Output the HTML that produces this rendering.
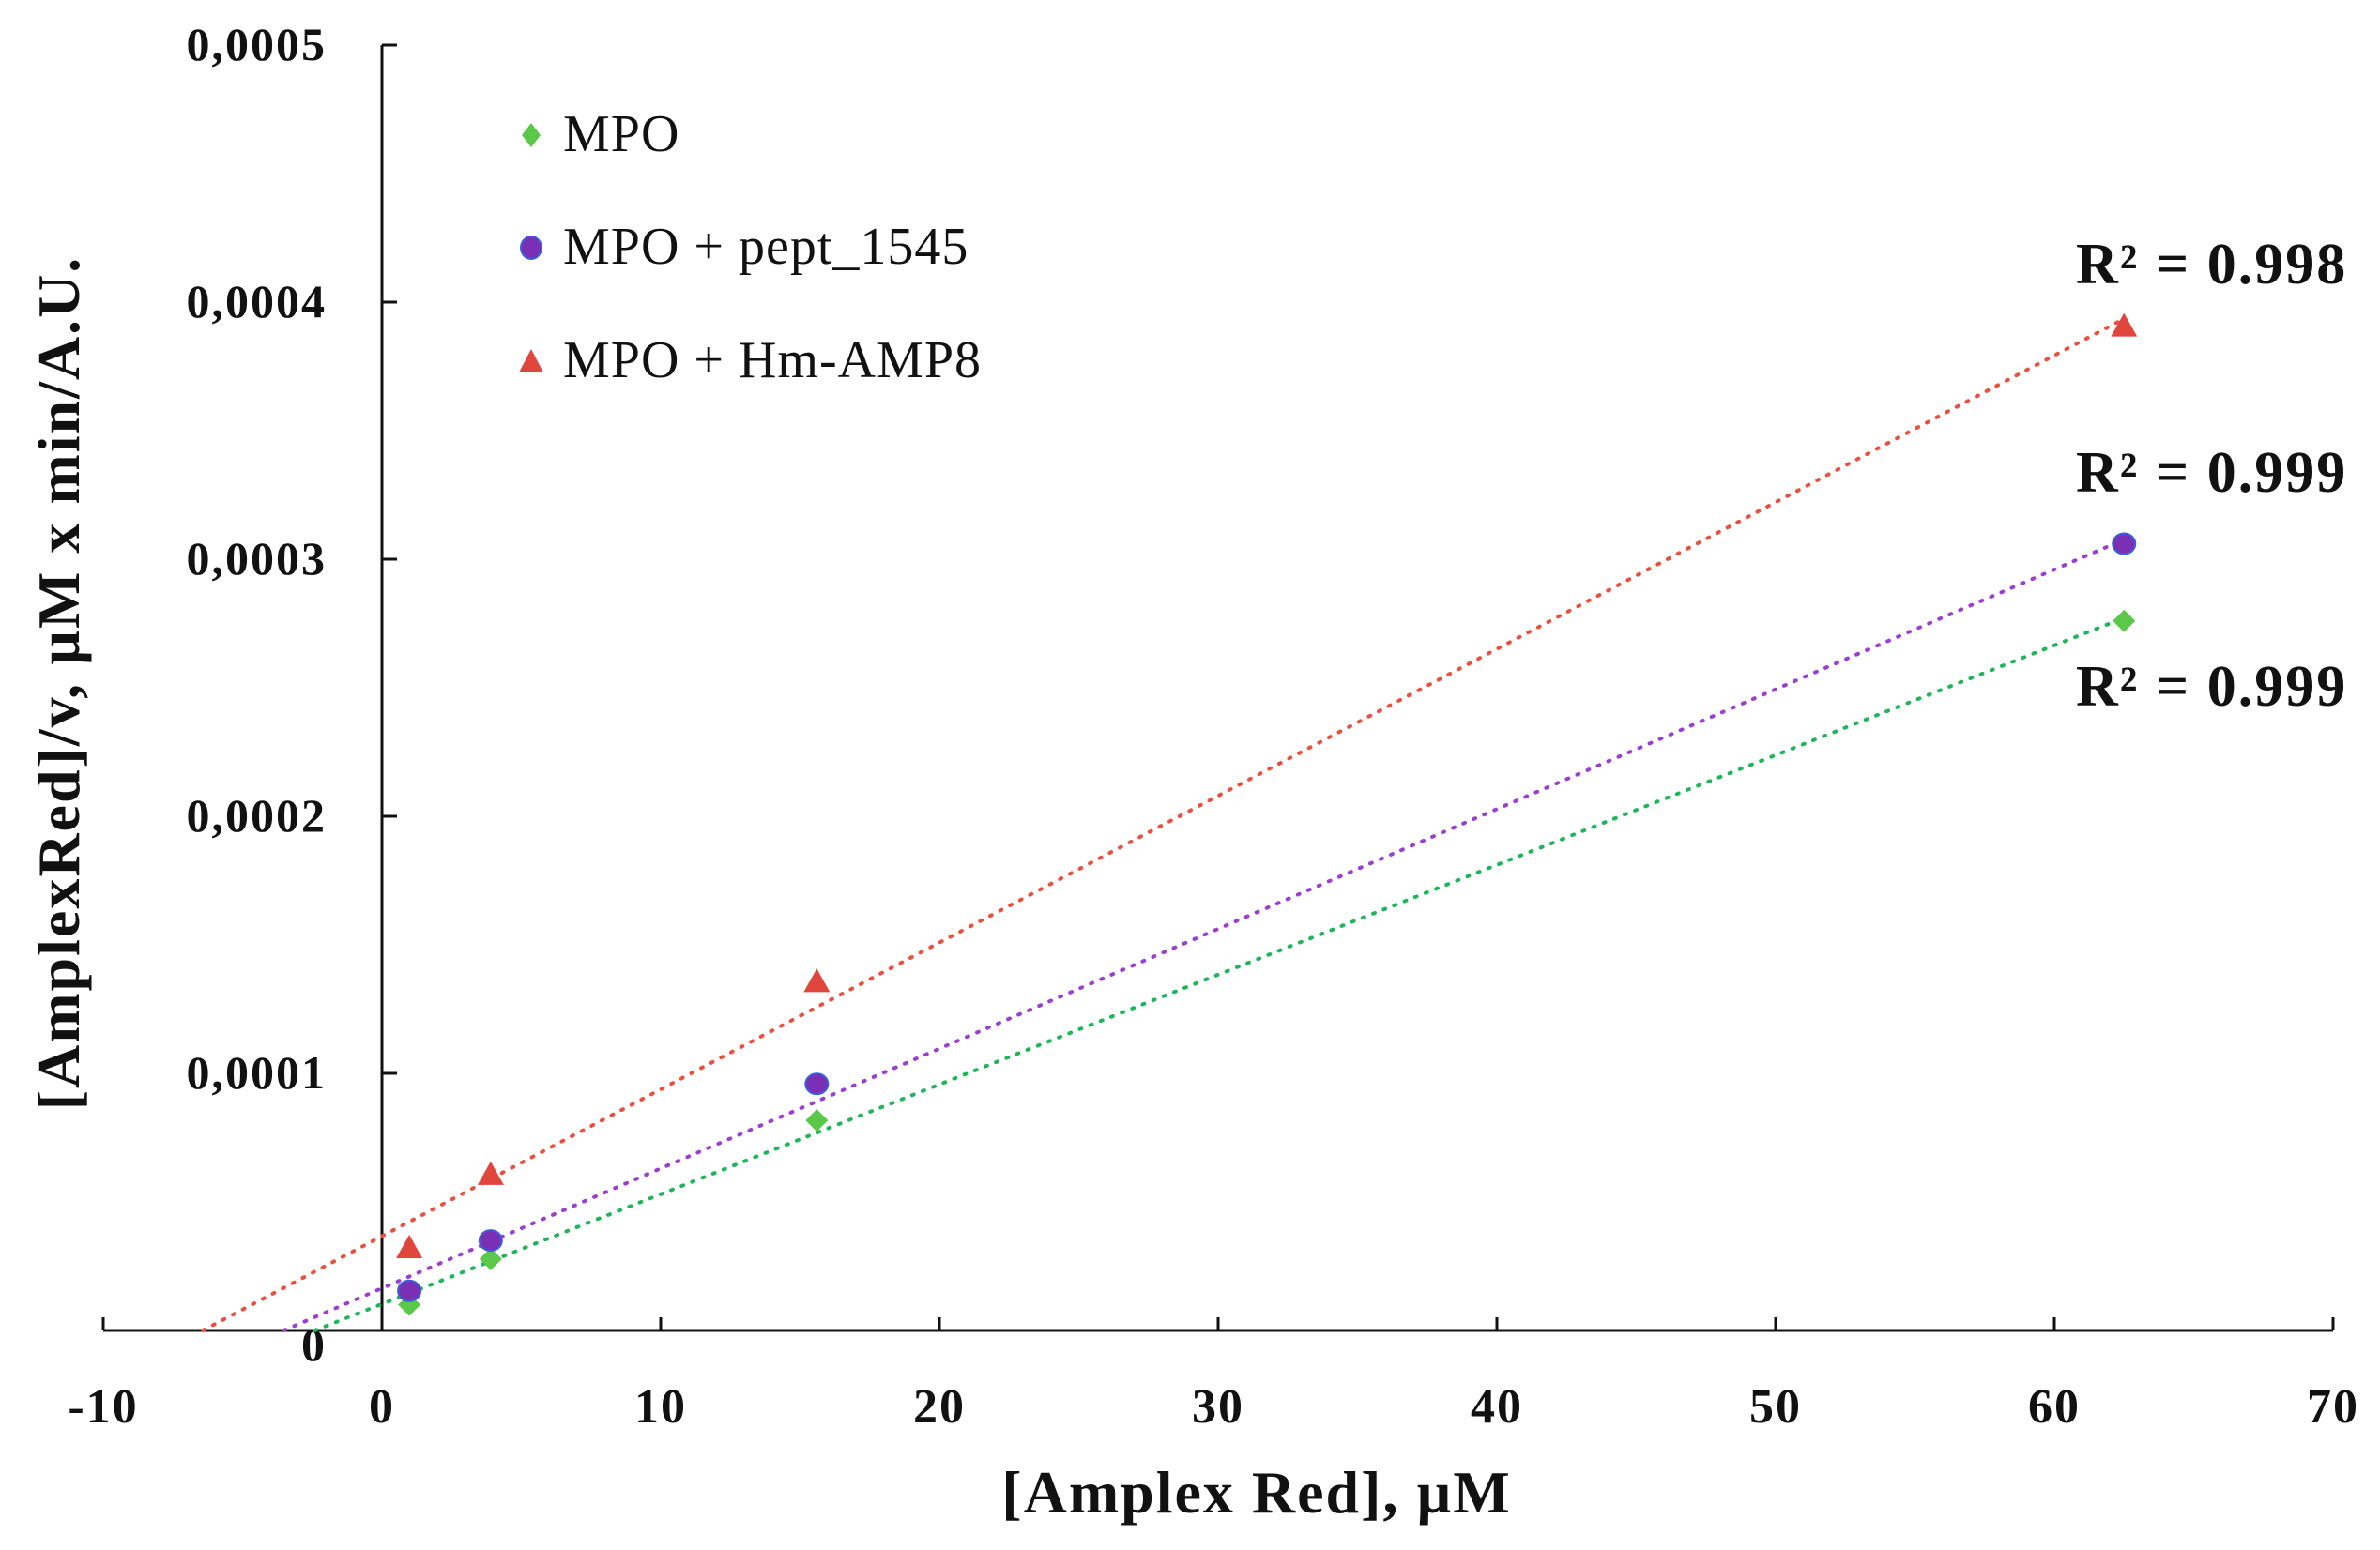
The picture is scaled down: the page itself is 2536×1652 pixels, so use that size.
<!DOCTYPE html>
<html><head><meta charset="utf-8"><style>
html,body{margin:0;padding:0;background:#fff;}
svg{display:block;}
text{font-family:"Liberation Serif",serif;fill:#111;}
</style></head><body>
<svg id="chart" width="2536" height="1652" viewBox="0 0 2536 1652">
<g id="axes"></g>
<g id="trends"></g>
<g id="marks"></g>
<text x="1339" y="1612" font-size="64" font-weight="bold" text-anchor="middle" letter-spacing="2">[Amplex Red], µM</text>
<text transform="translate(84,728) rotate(-90)" font-size="64" font-weight="bold" text-anchor="middle" letter-spacing="2">[AmplexRed]/v, µM x min/A.U.</text>
<g>
 <g><polygon points="566,131 576,144 566,157 556,144" fill="#5cc84a"/><text x="600" y="161" font-size="56" letter-spacing="1">MPO</text></g>
 <g><ellipse cx="566" cy="264" rx="11" ry="12" fill="#7a2fb5" stroke="#3b5fd9" stroke-width="2"/><text x="600" y="281" font-size="56" letter-spacing="1">MPO + pept_1545</text></g>
 <g><polygon points="566,372 579,397 553,397" fill="#e0463c"/><text x="600" y="402" font-size="56" letter-spacing="1">MPO + Hm-AMP8</text></g>
</g>
<text x="2212" y="302" font-size="62" font-weight="bold" letter-spacing="2">R² = 0.998</text>
<text x="2212" y="524" font-size="62" font-weight="bold" letter-spacing="2">R² = 0.999</text>
<text x="2212" y="752" font-size="62" font-weight="bold" letter-spacing="2">R² = 0.999</text>
</svg>
<script>
const xConc = [0.98, 3.9, 15.6, 62.5];
const mpoValues = [0.0000100, 0.0000278, 0.0000817, 0.000276];
const peptValues = [0.0000154, 0.0000350, 0.0000959, 0.000306];
const hmValues = [0.0000325, 0.0000610, 0.000136, 0.000391];
const xTicks = [-10, 0, 10, 20, 30, 40, 50, 60, 70];
const yTicks = [0, 0.0001, 0.0002, 0.0003, 0.0004, 0.0005];
const yTickLabels = ["0", "0,0001", "0,0002", "0,0003", "0,0004", "0,0005"];

const NS = "http://www.w3.org/2000/svg";
const X0 = 407, XU = 29.7, Y0 = 1418, YU = 2740000;
function xs(v){return X0 + v*XU;}
function ys(v){return Y0 - v*YU;}
function mk(tag, attrs, parent){const e=document.createElementNS(NS,tag);for(const k in attrs)e.setAttribute(k,attrs[k]);parent.appendChild(e);return e;}

const axes = document.getElementById('axes');
let l = mk('line',{x1:xs(-10),x2:xs(70),y1:Y0,y2:Y0,stroke:'#111','stroke-width':3},axes);


l = mk('line',{x1:xs(0),x2:xs(0),y1:ys(0.0005),y2:Y0,stroke:'#111','stroke-width':3},axes);


xTicks.forEach(t=>{
  const tk = mk('line',{x1:xs(t),x2:xs(t),y1:Y0,y2:Y0-14,stroke:'#111','stroke-width':3},axes);
  
  
  const tx = mk('text',{x:xs(t),y:1516,'font-size':52,'font-weight':'bold','text-anchor':'middle','letter-spacing':2},axes);
  tx.textContent = String(t);
  
  
});
yTicks.forEach((t,i)=>{
  const tk = mk('line',{x1:xs(0),x2:xs(0)+16,y1:ys(t),y2:ys(t),stroke:'#111','stroke-width':3},axes);
  
  
  const tx = mk('text',{x:348, y: i===0 ? ys(t)+32 : ys(t)+16,'font-size':50,'font-weight':'bold','text-anchor':'end','letter-spacing':2},axes);
  tx.textContent = yTickLabels[i];
  
  
});

function fit(xv, yv){
  const n=xv.length; let sx=0,sy=0,sxx=0,sxy=0;
  for(let i=0;i<n;i++){sx+=xv[i];sy+=yv[i];sxx+=xv[i]*xv[i];sxy+=xv[i]*yv[i];}
  const m=(n*sxy-sx*sy)/(n*sxx-sx*sx); return {m:m,b:(sy-m*sx)/n};
}
const series = [
  {name:'mpo', vals:mpoValues, color:'#1fb55a', mark:'#5cc84a', shape:'diamond'},
  {name:'pept-1545', vals:peptValues, color:'#9b3fd0', mark:'#7a2fb5', shape:'circle'},
  {name:'hm-amp8', vals:hmValues, color:'#e8513f', mark:'#e0463c', shape:'triangle'}
];
const trends = document.getElementById('trends');
const marks = document.getElementById('marks');
series.forEach(s=>{
  const f = fit(xConc, s.vals);
  const xStart = -f.b/f.m, xEnd = xConc[xConc.length-1];
  const ln = mk('line',{x1:xs(xStart),y1:ys(0),x2:xs(xEnd),y2:ys(f.m*xEnd+f.b),stroke:s.color,'stroke-width':4,'stroke-dasharray':'2 10','stroke-linecap':'round'},trends);
  
  
  xConc.forEach((xv,i)=>{
    const cx=xs(xv), cy=ys(s.vals[i]); let p;
    if(s.shape==='diamond') p=mk('polygon',{points:`${cx},${cy-12} ${cx+12},${cy} ${cx},${cy+12} ${cx-12},${cy}`,fill:s.mark},marks);
    else if(s.shape==='circle') p=mk('ellipse',{cx:cx,cy:cy,rx:12,ry:11,fill:s.mark,stroke:'#3b5fd9','stroke-width':2},marks);
    else p=mk('polygon',{points:`${cx},${cy-13} ${cx+14},${cy+12} ${cx-14},${cy+12}`,fill:s.mark},marks);
    
    
  });
});
</script>
</body></html>
